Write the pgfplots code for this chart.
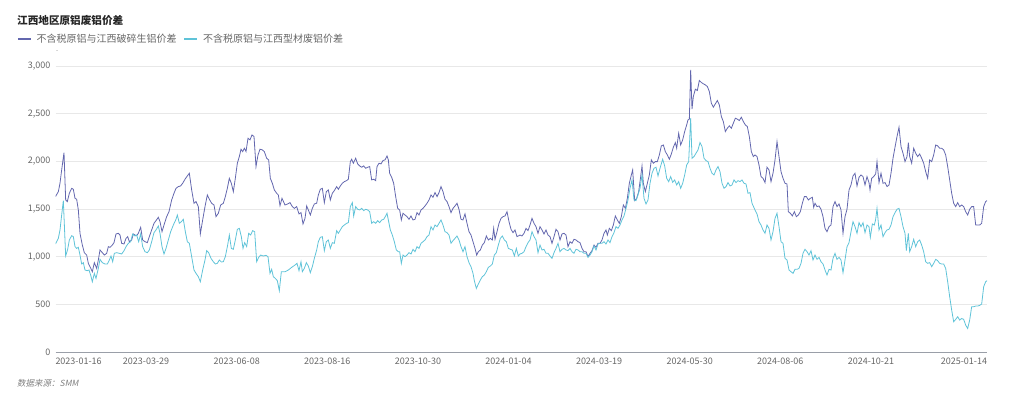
\documentclass[border=0pt]{standalone}
\usepackage{fontspec}
\setmainfont{Noto Sans CJK SC}
\newfontfamily\srcfont[FakeSlant=0.2]{Noto Sans CJK SC}
\usepackage{pgfplots}
\pgfplotsset{compat=1.18}
\definecolor{serA}{HTML}{6367AE}
\definecolor{serB}{HTML}{5FC3D8}
\definecolor{txt}{HTML}{666666}
\definecolor{gridc}{HTML}{E8E8E8}
\definecolor{axc}{HTML}{9A9FA8}
\begin{document}
\begin{tikzpicture}
\path[use as bounding box] (0,0) rectangle (1024pt,399pt);
\node[anchor=west, inner sep=0pt, text=black!85, font=\fontsize{10.6}{12}\selectfont\bfseries] at (17pt,379pt) {江西地区原铝废铝价差};
\node[anchor=west, inner sep=0pt, text=txt!80, font=\fontsize{6}{7}\selectfont] at (56pt,347pt) {-};
\node[anchor=west, inner sep=0pt, text=black!50, font=\fontsize{8.5}{10}\selectfont\srcfont] at (17pt,16pt) {数据来源：SMM};
\begin{axis}[
  at={(55.5pt,47pt)}, anchor=south west,
  scale only axis, width=931.5pt, height=286pt,
  xmin=0, xmax=2794.5, ymin=0, ymax=3000,
  axis x line*=bottom, axis y line*=left,
  x axis line style={draw=axc, line width=0.8pt},
  y axis line style={draw=none},
  major tick length=0pt,
  ytick={0,500,1000,1500,2000,2500,3000},
  xtick={0,271.8,543.6,815.4,1087.2,1359,1630.8,1902.6,2174.4,2446.2,2794.5},
  xticklabels={\rlap{2023-01-16},2023-03-29,2023-06-08,2023-08-16,2023-10-30,2024-01-04,2024-03-19,2024-05-30,2024-08-06,2024-10-21,\llap{2025-01-14}},
  ymajorgrids, grid style={draw=gridc, line width=0.8pt},
  scaled y ticks=false,
  /pgf/number format/assume math mode=true,
  /pgf/number format/1000 sep={,},
  tick label style={font=\fontsize{9}{10}\selectfont, text=txt},
  yticklabel style={inner sep=0pt, xshift=-5pt},
  xticklabel style={inner sep=0pt, yshift=-6pt},
  legend columns=2,
  legend style={at={(-0.0413,1.0944)}, anchor=west, draw=none, fill=none, inner sep=0pt, outer sep=0pt,
    font=\fontsize{10}{12}\selectfont, text=txt,
    nodes={inner sep=0pt},
    /tikz/every odd column/.append style={column sep=5pt},
    /tikz/every even column/.append style={column sep=7pt}},
  legend image code/.code={\draw[#1, line width=1.5pt] (0pt,0pt) -- (13pt,0pt);},
]
\addplot[serA, line width=0.8pt] coordinates {
(0,1630)(8.5,1682)(13.5,1770)(18.5,1910)(25.5,2092)(30.5,1595)(35.5,1578)(41.5,1665)(48.5,1717)(53.5,1707)(58.5,1612)(63.5,1602)(68.5,1490)(73.5,1245)(80.5,1122)(86.5,1042)(93.5,1017)(98.5,930)(105.5,880)(110.5,842)(116.5,937)(123.5,877)(128.5,965)(133.5,1070)(140.5,1042)(146.5,1017)(153.5,1035)(158.5,1105)(163.5,1098)(170.5,1122)(175.5,1147)(181.5,1238)(188.5,1245)(193.5,1227)(198.5,1140)(205.5,1133)(211.5,1192)(216.5,1210)(221.5,1157)(228.5,1175)(233.5,1238)(238.5,1227)(243.5,1220)(248.5,1245)(255.5,1308)(261.5,1175)(268.5,1157)(275.5,1147)(281.5,1210)(288.5,1280)(295.5,1350)(301.5,1378)(308.5,1413)(313.5,1367)(319.5,1262)(325.5,1332)(333.5,1420)(340.5,1472)(348.5,1595)(355.5,1665)(361.5,1717)(368.5,1735)(375.5,1742)(381.5,1770)(388.5,1812)(395.5,1847)(401.5,1875)(408.5,1700)(415.5,1560)(421.5,1578)(428.5,1525)(434.5,1238)(441.5,1385)(448.5,1525)(455.5,1647)(461.5,1602)(468.5,1560)(475.5,1542)(481.5,1420)(488.5,1455)(495.5,1542)(503.5,1560)(509.5,1630)(515.5,1717)(521.5,1822)(527.5,1770)(533.5,1682)(539.5,1822)(545.5,1980)(551.5,2050)(556.5,2127)(561.5,2102)(566.5,2137)(571.5,2102)(577.5,2242)(583.5,2225)(589.5,2277)(595.5,2260)(601.5,1945)(607.5,2067)(613.5,2127)(620.5,2120)(626.5,2102)(633.5,2032)(639.5,2015)(644.5,1822)(650.5,1770)(656.5,1700)(663.5,1665)(668.5,1647)(673.5,1535)(679.5,1612)
(688.5,1542)(696.5,1553)(703.5,1567)(710.5,1525)(716.5,1507)(723.5,1525)(730.5,1448)(736.5,1462)(742.5,1343)(748.5,1402)(753.5,1532)(758.5,1490)(764.5,1437)(770.5,1507)(776.5,1553)(783.5,1560)(788.5,1647)(794.5,1707)(800.5,1717)(806.5,1567)(812.5,1682)(818.5,1700)(824.5,1595)(830.5,1665)(836.5,1693)(843.5,1735)(848.5,1707)(854.5,1742)(860.5,1770)(866.5,1787)(873.5,1798)(878.5,1812)(884.5,1997)(888.5,2022)(893.5,1980)(900.5,2032)(906.5,1973)(912.5,1952)(918.5,1938)(924.5,1952)(930.5,1927)(936.5,1938)(942.5,1945)(948.5,1805)(954.5,1812)(960.5,1798)(964.5,1945)(970.5,1980)(976.5,1973)(982.5,2008)(988.5,2015)(994.5,2057)(998.5,2015)(1002.5,1875)(1008.5,1833)(1014.5,1770)(1020.5,1630)(1026.5,1507)(1032.5,1490)(1037.5,1385)(1042.5,1455)(1048.5,1437)(1054.5,1420)(1060.5,1392)(1066.5,1427)(1072.5,1385)(1078.5,1392)(1084.5,1462)(1090.5,1437)(1096.5,1490)(1102.5,1507)(1108.5,1532)(1114.5,1560)(1120.5,1595)(1126.5,1647)(1132.5,1623)(1138.5,1672)(1144.5,1630)(1150.5,1672)(1156.5,1735)(1162.5,1682)(1168.5,1602)(1174.5,1578)(1180.5,1525)(1186.5,1462)(1192.5,1507)(1198.5,1532)(1204.5,1560)(1210.5,1497)(1216.5,1392)(1222.5,1385)(1228.5,1448)(1234.5,1350)(1240.5,1262)(1246.5,1227)(1252.5,1157)(1258.5,1087)(1263.5,1017)(1268.5,1052)(1274.5,1070)(1280.5,1122)(1286.5,1147)(1292.5,1217)(1298.5,1175)(1304.5,1192)(1310.5,1175)(1314.5,1297)(1318.5,1182)(1324.5,1262)(1330.5,1350)(1336.5,1402)(1342.5,1420)(1348.5,1427)(1354.5,1472)(1360.5,1367)(1366.5,1287)(1372.5,1252)(1378.5,1280)(1384.5,1210)
(1393.5,1227)(1399.5,1217)(1405.5,1245)(1411.5,1297)(1417.5,1273)(1423.5,1332)(1429.5,1402)(1435.5,1350)(1441.5,1315)(1447.5,1245)(1453.5,1315)(1459.5,1280)(1465.5,1238)(1471.5,1280)(1477.5,1227)(1483.5,1210)(1489.5,1140)(1495.5,1210)(1501.5,1287)(1507.5,1262)(1513.5,1175)(1519.5,1238)(1525.5,1245)(1531.5,1227)(1537.5,1105)(1543.5,1157)(1549.5,1140)(1555.5,1182)(1561.5,1175)(1567.5,1157)(1573.5,1147)(1579.5,1087)(1585.5,1052)(1591.5,1052)(1597.5,1000)(1603.5,1035)(1609.5,1063)(1615.5,1122)(1621.5,1098)(1627.5,1140)(1633.5,1140)(1639.5,1175)(1645.5,1245)(1651.5,1280)(1655.5,1227)(1661.5,1297)(1667.5,1273)(1673.5,1332)(1679.5,1427)(1685.5,1385)(1691.5,1350)(1697.5,1420)(1703.5,1542)(1709.5,1507)(1715.5,1612)(1721.5,1770)(1727.5,1857)(1731.5,1910)(1737.5,1588)(1743.5,1612)(1749.5,1682)(1755.5,1840)(1759.5,1952)(1763.5,1770)(1769.5,1682)(1775.5,1770)(1781.5,1857)(1787.5,2015)(1793.5,1980)(1799.5,1997)(1805.5,1997)(1811.5,2067)(1817.5,2162)(1823.5,2172)(1829.5,2102)(1835.5,2067)(1841.5,2022)(1847.5,2077)(1853.5,2148)(1859.5,2197)(1863.5,2137)(1869.5,2295)(1875.5,2172)(1881.5,2225)(1887.5,2312)(1893.5,2382)(1897.5,2435)(1901.5,2442)(1905.5,2960)(1909.5,2547)(1913.5,2680)(1919.5,2757)(1925.5,2743)(1931.5,2848)(1937.5,2827)(1943.5,2813)(1949.5,2802)(1955.5,2785)(1961.5,2732)(1967.5,2610)(1973.5,2568)(1979.5,2603)(1985.5,2638)(1991.5,2592)(1997.5,2470)(2003.5,2417)(2009.5,2312)(2015.5,2347)(2021.5,2372)(2027.5,2347)(2033.5,2400)(2039.5,2452)(2045.5,2442)(2051.5,2428)(2057.5,2463)(2063.5,2417)(2069.5,2382)(2075.5,2365)(2081.5,2260)(2087.5,2102)(2093.5,2050)
(2098.5,2067)(2104.5,2050)(2110.5,1962)(2116.5,1840)(2122.5,1822)(2128.5,1777)(2134.5,1938)(2140.5,1910)(2146.5,1787)(2152.5,1875)(2158.5,2015)(2164.5,2207)(2170.5,2050)(2176.5,1892)(2182.5,1822)(2188.5,1770)(2194.5,1763)(2198.5,1472)(2204.5,1455)(2210.5,1427)(2216.5,1472)(2222.5,1420)(2228.5,1437)(2234.5,1472)(2240.5,1560)(2246.5,1630)(2252.5,1630)(2258.5,1595)(2264.5,1612)(2270.5,1623)(2274.5,1518)(2278.5,1560)(2284.5,1525)(2290.5,1532)(2296.5,1497)(2302.5,1420)(2308.5,1297)(2314.5,1262)(2320.5,1315)(2326.5,1332)(2332.5,1525)(2338.5,1578)(2344.5,1525)(2350.5,1553)(2356.5,1490)(2362.5,1245)(2368.5,1420)(2374.5,1497)(2380.5,1700)(2386.5,1752)(2392.5,1847)(2398.5,1875)(2404.5,1742)(2410.5,1833)(2416.5,1857)(2422.5,1840)(2428.5,1752)(2434.5,1840)(2440.5,1777)(2443.5,1700)(2448.5,1822)(2454.5,1840)(2460.5,1868)(2464.5,1997)(2470.5,1777)(2476.5,1875)(2482.5,1770)(2488.5,1777)(2494.5,1735)(2500.5,1752)(2506.5,1875)(2512.5,2032)(2518.5,2148)(2524.5,2260)(2530.5,2358)(2536.5,2155)(2542.5,2085)(2548.5,1997)(2554.5,2050)(2558.5,2197)(2562.5,2050)(2568.5,1980)(2574.5,2137)(2580.5,2085)(2586.5,2050)(2592.5,2077)(2598.5,2032)(2604.5,1980)(2610.5,1892)(2616.5,1822)(2622.5,2015)(2628.5,1997)(2634.5,2067)(2640.5,2172)(2646.5,2162)(2652.5,2137)(2658.5,2137)(2664.5,2120)(2670.5,2067)(2676.5,1945)(2682.5,1805)(2688.5,1665)(2694.5,1560)(2700.5,1525)(2706.5,1567)(2712.5,1525)(2718.5,1542)(2724.5,1525)(2730.5,1472)(2736.5,1437)(2742.5,1497)(2748.5,1525)(2754.5,1525)(2760.5,1332)(2766.5,1332)(2772.5,1332)(2778.5,1350)(2784.5,1525)(2790.5,1578)(2794.5,1588)
};
\addlegendentry{不含税原铝与江西破碎生铝价差}
\addplot[serB, line width=0.8pt] coordinates {
(0,1133)(8.5,1192)(13.5,1280)(18.5,1437)(23.5,1588)(30.5,1007)(36.5,1077)(41.5,1175)(48.5,1220)(53.5,1210)(58.5,1105)(63.5,1087)(68.5,1098)(73.5,1017)(78.5,923)(83.5,937)(88.5,860)(95.5,853)(100.5,860)(105.5,807)(110.5,737)(116.5,825)(121.5,772)(128.5,877)(133.5,972)(140.5,937)(148.5,923)(155.5,923)(161.5,965)(166.5,1007)(171.5,947)(176.5,1035)(183.5,1042)(191.5,1035)(198.5,1028)(205.5,1063)(211.5,1105)(218.5,1140)(225.5,1157)(231.5,1238)(238.5,1217)(243.5,1227)(249.5,1157)(255.5,1238)(261.5,1105)(268.5,1052)(275.5,1042)(281.5,1070)(288.5,1157)(295.5,1252)(301.5,1280)(308.5,1322)(313.5,1245)(319.5,1105)(325.5,1028)(331.5,1087)(338.5,1175)(345.5,1262)(353.5,1332)(361.5,1392)(365.5,1437)(371.5,1350)(377.5,1367)(383.5,1392)(389.5,1262)(395.5,1157)(401.5,1140)(408.5,1000)(415.5,860)(421.5,825)(428.5,790)(434.5,737)(441.5,860)(448.5,965)(453.5,1063)(459.5,1042)(466.5,982)(473.5,947)(479.5,923)(485.5,930)(491.5,965)(497.5,944)(503.5,947)(509.5,1000)(516.5,1122)(521.5,1227)(527.5,1087)(533.5,1077)(539.5,1175)(545.5,1287)(551.5,1297)(557.5,1210)(562.5,1087)(567.5,1147)(573.5,1105)(579.5,1245)(585.5,1227)(591.5,1273)(597.5,1262)(603.5,947)(609.5,993)(615.5,1017)(623.5,1007)(631.5,1014)(637.5,1000)(643.5,825)(648.5,867)(653.5,790)(659.5,772)(665.5,748)(671.5,643)(677.5,842)
(688.5,842)(698.5,860)(708.5,888)(718.5,912)(724.5,930)(730.5,853)(736.5,947)(740.5,842)(746.5,877)(752.5,937)(758.5,902)(764.5,832)(770.5,895)(776.5,982)(783.5,1070)(788.5,1157)(794.5,1203)(800.5,1210)(806.5,1063)(812.5,1157)(818.5,1175)(824.5,1087)(830.5,1147)(836.5,1140)(843.5,1273)(848.5,1245)(854.5,1280)(860.5,1315)(866.5,1332)(873.5,1350)(878.5,1357)(884.5,1525)(890.5,1567)(894.5,1427)(900.5,1525)(906.5,1497)(912.5,1490)(918.5,1507)(924.5,1483)(930.5,1497)(936.5,1490)(942.5,1472)(948.5,1350)(954.5,1367)(960.5,1350)(966.5,1378)(972.5,1357)(978.5,1385)(984.5,1392)(990.5,1427)(994.5,1455)(998.5,1385)(1004.5,1280)(1010.5,1227)(1016.5,1157)(1022.5,1070)(1028.5,1052)(1032.5,1052)(1037.5,930)(1042.5,1017)(1048.5,1000)(1054.5,1017)(1060.5,1042)(1066.5,1028)(1072.5,1077)(1078.5,1052)(1084.5,1105)(1090.5,1087)(1096.5,1140)(1102.5,1157)(1108.5,1175)(1114.5,1210)(1120.5,1227)(1126.5,1315)(1132.5,1280)(1138.5,1332)(1144.5,1315)(1150.5,1350)(1156.5,1385)(1162.5,1332)(1168.5,1262)(1174.5,1252)(1180.5,1227)(1186.5,1140)(1192.5,1168)(1198.5,1192)(1204.5,1217)(1210.5,1175)(1216.5,1105)(1222.5,1052)(1228.5,1105)(1234.5,1000)(1240.5,937)(1246.5,895)(1252.5,825)(1256.5,748)(1262.5,667)(1268.5,713)(1274.5,755)(1280.5,790)(1286.5,807)(1292.5,842)(1298.5,888)(1304.5,902)(1310.5,923)(1316.5,1017)(1322.5,1042)(1328.5,1122)(1334.5,1192)(1340.5,1217)(1346.5,1175)(1352.5,1157)(1358.5,1087)(1364.5,1077)(1370.5,1070)(1376.5,1007)(1382.5,1087)(1388.5,1007)
(1393.5,1028)(1399.5,1035)(1405.5,1052)(1411.5,1105)(1417.5,1147)(1423.5,1175)(1429.5,1262)(1435.5,1210)(1441.5,1175)(1447.5,1042)(1453.5,1122)(1459.5,1070)(1465.5,1077)(1471.5,1035)(1477.5,1035)(1483.5,1007)(1489.5,982)(1495.5,1042)(1501.5,1087)(1507.5,1140)(1513.5,1052)(1519.5,1077)(1525.5,1087)(1531.5,1070)(1537.5,1063)(1543.5,1087)(1549.5,1052)(1555.5,1035)(1561.5,1077)(1567.5,1070)(1573.5,1052)(1579.5,1052)(1585.5,1035)(1591.5,1035)(1597.5,993)(1603.5,1017)(1609.5,1052)(1615.5,1112)(1621.5,1070)(1627.5,1133)(1633.5,1140)(1639.5,1140)(1645.5,1157)(1651.5,1133)(1657.5,1175)(1663.5,1147)(1669.5,1210)(1675.5,1252)(1681.5,1315)(1687.5,1297)(1693.5,1332)(1699.5,1385)(1705.5,1427)(1711.5,1507)(1717.5,1595)(1723.5,1717)(1729.5,1805)(1735.5,1595)(1741.5,1588)(1747.5,1647)(1753.5,1717)(1759.5,1857)(1765.5,1612)(1771.5,1553)(1777.5,1595)(1783.5,1770)(1789.5,1875)(1795.5,1927)(1801.5,1938)(1807.5,1847)(1813.5,1927)(1821.5,2022)(1827.5,1952)(1833.5,1822)(1839.5,1787)(1845.5,1840)(1851.5,1780)(1857.5,1805)(1863.5,1752)(1869.5,1787)(1875.5,1717)(1881.5,1770)(1887.5,1857)(1893.5,1962)(1899.5,1997)(1905.5,2452)(1909.5,2032)(1915.5,2050)(1921.5,2085)(1927.5,2120)(1933.5,2197)(1939.5,2155)(1945.5,2032)(1951.5,2008)(1957.5,1997)(1963.5,1927)(1969.5,1875)(1975.5,1857)(1981.5,1910)(1987.5,1945)(1993.5,1892)(1999.5,1770)(2005.5,1717)(2011.5,1735)(2017.5,1777)(2023.5,1742)(2029.5,1752)(2035.5,1805)(2041.5,1777)(2047.5,1798)(2053.5,1787)(2059.5,1805)(2065.5,1770)(2071.5,1763)(2077.5,1665)(2083.5,1672)(2089.5,1560)
(2098.5,1490)(2104.5,1448)(2110.5,1367)(2116.5,1332)(2122.5,1280)(2128.5,1245)(2134.5,1332)(2140.5,1297)(2146.5,1175)(2152.5,1262)(2158.5,1402)(2164.5,1455)(2170.5,1315)(2176.5,1157)(2182.5,1140)(2188.5,982)(2194.5,965)(2200.5,860)(2206.5,842)(2212.5,825)(2218.5,867)(2224.5,867)(2230.5,877)(2236.5,930)(2242.5,1035)(2248.5,1077)(2254.5,1052)(2260.5,1017)(2266.5,1063)(2272.5,965)(2278.5,1017)(2284.5,972)(2290.5,993)(2296.5,947)(2302.5,923)(2308.5,860)(2314.5,807)(2320.5,867)(2326.5,860)(2332.5,982)(2338.5,1035)(2344.5,972)(2350.5,993)(2356.5,965)(2362.5,832)(2368.5,965)(2374.5,1105)(2380.5,1147)(2386.5,1262)(2392.5,1367)(2398.5,1315)(2404.5,1245)(2410.5,1357)(2416.5,1315)(2422.5,1357)(2428.5,1252)(2434.5,1332)(2440.5,1315)(2444.5,1203)(2450.5,1343)(2456.5,1332)(2460.5,1392)(2464.5,1507)(2470.5,1280)(2476.5,1332)(2482.5,1210)(2488.5,1252)(2494.5,1280)(2500.5,1287)(2506.5,1332)(2512.5,1420)(2518.5,1462)(2524.5,1497)(2530.5,1507)(2536.5,1420)(2542.5,1315)(2548.5,1245)(2552.5,1063)(2558.5,1245)(2562.5,1052)(2568.5,1105)(2574.5,1182)(2580.5,1105)(2586.5,1157)(2592.5,1175)(2598.5,1122)(2604.5,1052)(2610.5,947)(2616.5,930)(2622.5,937)(2628.5,895)(2634.5,930)(2640.5,972)(2646.5,958)(2652.5,930)(2658.5,923)(2664.5,923)(2670.5,877)(2676.5,737)(2682.5,580)(2688.5,440)(2694.5,317)(2700.5,342)(2706.5,370)(2712.5,335)(2718.5,352)(2724.5,342)(2730.5,282)(2736.5,247)(2742.5,335)(2748.5,475)(2754.5,475)(2760.5,482)(2766.5,482)(2772.5,489)(2778.5,503)(2784.5,685)(2790.5,737)(2794.5,748)
};
\addlegendentry{不含税原铝与江西型材废铝价差}
\end{axis}
\end{tikzpicture}
\end{document}
